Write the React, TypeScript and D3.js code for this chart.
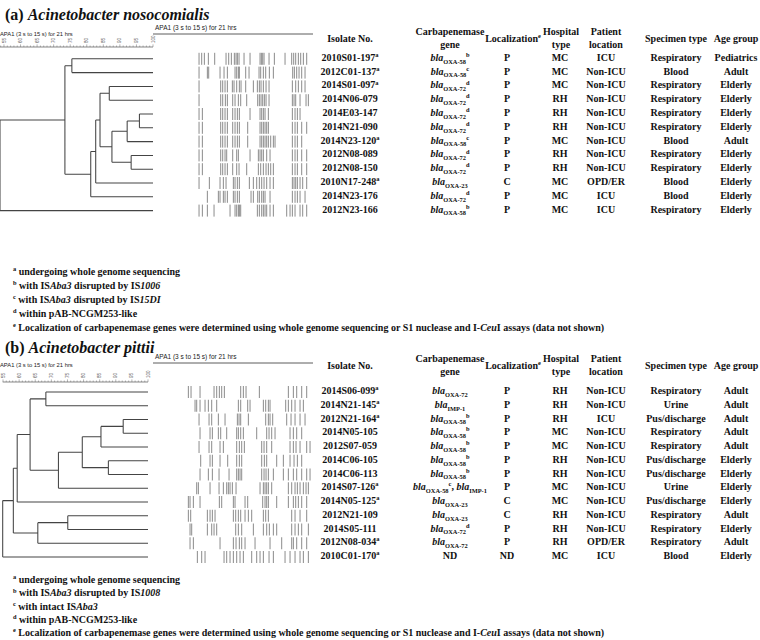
import React from 'react';
import * as d3 from 'd3';

// ---------- panel (a) A. nosocomialis ----------
const isolatesA = ['2010S01-197', '2012C01-137', '2014S01-097', '2014N06-079', '2014E03-147', '2014N21-090',
  '2014N23-120', '2012N08-089', '2012N08-150', '2010N17-248', '2014N23-176', '2012N23-166'];
const wgsA = [true, true, true, false, false, false, true, false, false, true, false, false];
const genesA = ['OXA-58^b', 'OXA-58^c', 'OXA-72^d', 'OXA-72^d', 'OXA-72^d', 'OXA-72^d',
  'OXA-58^c', 'OXA-72^d', 'OXA-72^d', 'OXA-23', 'OXA-72^d', 'OXA-58^b'];
const locA = ['P', 'P', 'P', 'P', 'P', 'P', 'P', 'P', 'P', 'C', 'P', 'P'];
const hospA = ['MC', 'MC', 'MC', 'RH', 'RH', 'RH', 'MC', 'RH', 'RH', 'MC', 'MC', 'MC'];
const patientA = ['ICU', 'Non-ICU', 'Non-ICU', 'Non-ICU', 'Non-ICU', 'Non-ICU', 'Non-ICU', 'Non-ICU', 'Non-ICU', 'OPD/ER', 'ICU', 'ICU'];
const specimenA = ['Respiratory', 'Blood', 'Respiratory', 'Respiratory', 'Respiratory', 'Respiratory',
  'Blood', 'Respiratory', 'Respiratory', 'Blood', 'Blood', 'Respiratory'];
const ageA = ['Pediatrics', 'Adult', 'Elderly', 'Elderly', 'Elderly', 'Elderly', 'Adult', 'Elderly', 'Elderly', 'Elderly', 'Elderly', 'Elderly'];

// PFGE band positions (lane units, low = top of gel)
const bandsA = [
  [237, 245, 253, 265, 284, 318, 326, 334, 343, 348, 352, 357, 372, 390, 420, 424, 428, 432, 447, 463, 495, 515, 521, 527, 535, 542, 550, 560],
  [237, 262, 266, 300, 312, 322, 345, 350, 355, 358, 377, 387, 417, 422, 430, 437, 448, 460, 518, 523, 530, 537, 545, 555],
  [237, 302, 308, 315, 322, 337, 342, 350, 358, 363, 377, 400, 412, 418, 423, 430, 438, 447, 517, 527, 535, 545, 555],
  [237, 302, 308, 316, 322, 338, 345, 355, 362, 380, 413, 418, 423, 428, 433, 438, 447, 517, 522, 527, 540, 558, 565],
  [237, 247, 302, 308, 315, 322, 338, 345, 352, 358, 390, 420, 425, 430, 435, 445, 517, 525, 532, 540],
  [237, 247, 302, 308, 315, 322, 338, 345, 352, 358, 383, 420, 425, 430, 435, 440, 445, 517, 525, 532, 545, 560],
  [237, 247, 302, 308, 315, 322, 338, 345, 352, 358, 383, 420, 425, 430, 435, 440, 445, 452, 460, 465, 517, 525, 532, 545],
  [237, 247, 302, 308, 315, 320, 338, 350, 355, 390, 415, 420, 425, 430, 440, 450, 517, 525, 532, 545, 560],
  [237, 247, 302, 308, 315, 322, 338, 350, 357, 380, 415, 422, 430, 438, 445, 452, 460, 517, 525, 532, 545, 560],
  [237, 268, 300, 310, 318, 340, 345, 352, 358, 388, 400, 410, 418, 425, 432, 440, 450, 460, 517, 522, 527, 532, 540, 548, 560],
  [262, 295, 300, 310, 315, 322, 340, 345, 352, 358, 393, 400, 413, 418, 425, 430, 435, 450, 517, 525, 532, 540, 555],
  [237, 247, 262, 282, 330, 345, 350, 355, 358, 362, 412, 418, 425, 430, 435, 440, 450, 460, 500, 510, 517, 525, 540, 548, 560],
];

// ---------- panel (b) A. pittii ----------
const isolatesB = ['2014S06-099', '2014N21-145', '2012N21-164', '2014N05-105', '2012S07-059', '2014C06-105',
  '2014C06-113', '2014S07-126', '2014N05-125', '2012N21-109', '2014S05-111', '2012N08-034', '2010C01-170'];
const wgsB = [true, true, true, false, false, false, false, true, true, false, false, true, true];
const genesB = ['OXA-72', 'IMP-1', 'OXA-58^b', 'OXA-58^b', 'OXA-58^b', 'OXA-58^b', 'OXA-58^b',
  'OXA-58^c,IMP-1', 'OXA-23', 'OXA-23', 'OXA-72^d', 'OXA-72', 'ND'];
const locB = ['P', 'P', 'P', 'P', 'P', 'P', 'P', 'P', 'C', 'C', 'P', 'P', 'ND'];
const hospB = ['RH', 'RH', 'RH', 'MC', 'MC', 'RH', 'RH', 'MC', 'MC', 'RH', 'RH', 'RH', 'MC'];
const patientB = ['Non-ICU', 'Non-ICU', 'ICU', 'Non-ICU', 'Non-ICU', 'Non-ICU', 'Non-ICU', 'Non-ICU', 'Non-ICU', 'Non-ICU', 'Non-ICU', 'OPD/ER', 'ICU'];
const specimenB = ['Respiratory', 'Urine', 'Pus/discharge', 'Respiratory', 'Respiratory', 'Pus/discharge', 'Pus/discharge',
  'Urine', 'Pus/discharge', 'Respiratory', 'Respiratory', 'Respiratory', 'Blood'];
const ageB = ['Adult', 'Adult', 'Adult', 'Adult', 'Adult', 'Elderly', 'Elderly', 'Elderly', 'Elderly', 'Adult', 'Elderly', 'Adult', 'Elderly'];

const bandsB = [
  [205, 213, 240, 282, 290, 298, 305, 313, 362, 370, 378, 418, 505, 520, 530, 545, 560],
  [225, 230, 240, 255, 265, 275, 290, 355, 362, 383, 390, 430, 437, 445, 450, 497, 505, 515, 525, 540, 550],
  [237, 267, 275, 295, 315, 352, 357, 362, 385, 437, 445, 450, 458, 500, 513, 525, 540, 555],
  [240, 270, 277, 295, 302, 320, 350, 355, 362, 370, 410, 440, 447, 455, 465, 510, 520, 530, 545],
  [237, 267, 275, 300, 310, 350, 358, 365, 373, 425, 432, 440, 455, 510, 520, 528, 540, 560, 570],
  [242, 270, 277, 300, 323, 350, 358, 365, 425, 433, 440, 470, 490, 510, 522, 532, 545],
  [240, 265, 277, 297, 327, 350, 355, 360, 365, 425, 432, 438, 445, 460, 490, 505, 520, 530, 545, 560, 570],
  [230, 235, 270, 297, 310, 320, 325, 330, 337, 348, 420, 430, 435, 440, 445, 455, 505, 515, 525, 532, 540, 550, 558, 565],
  [205, 210, 220, 240, 298, 305, 340, 345, 375, 383, 428, 435, 440, 445, 470, 505, 520, 527, 535, 545, 560],
  [205, 212, 262, 270, 277, 285, 340, 347, 355, 362, 375, 385, 395, 430, 437, 445, 515, 525, 540, 560],
  [210, 215, 262, 275, 282, 290, 347, 355, 365, 400, 430, 440, 448, 460, 470, 515, 525, 535, 545, 565],
  [210, 220, 300, 340, 348, 358, 365, 375, 405, 450, 485, 515, 520, 530, 545, 560],
  [232, 245, 255, 312, 320, 330, 340, 350, 360, 370, 395, 410, 420, 430, 447, 460, 495, 510, 525, 540, 550, 565],
];

// UPGMA-style trees: [similarity %, left, right]; numbers are leaf (row) indices
type T = number | [number, T, T];
const treeA: T = [53.8, [73.4, [75.5, 0, 1], [81.2, [82.7, [84.0, [86.8, 2, 3],
  [87.6, [92.2, [95.9, 4, 5], 6], [93.4, 7, 8]]], 9], 10]], 11];
const treeB: T = [54.9, [58.2, [59.4, [63.4, [68.3, 0, 1], [72.2, [79.6, [85.4, [92.3, 2, 3], 4], [87.7, 5, 6]], 7]], 8],
  [65.8, [75.1, 9, 10], 11]], 12];

const rulerTicks = [55, 60, 65, 70, 75, 80, 85, 90, 95, 100];

const footA = ['undergoing whole genome sequencing', 'with IS*Aba3* disrupted by IS*1006*', 'with IS*Aba3* disrupted by IS*15DI*',
  'within pAB-NCGM253-like', 'Localization of carbapenemase genes were determined using whole genome sequencing or S1 nuclease and I-*Ceu*I assays (data not shown)'];
const footB = ['undergoing whole genome sequencing', 'with IS*Aba3* disrupted by IS*1008*', 'with intact IS*Aba3*',
  'within pAB-NCGM253-like', 'Localization of carbapenemase genes were determined using whole genome sequencing or S1 nuclease and I-*Ceu*I assays (data not shown)'];
const footKeys = ['a', 'b', 'c', 'd', 'e'];

const SERIF = "'Liberation Serif','Times New Roman',serif";
const SANS = "'Liberation Sans',Arial,sans-serif";
const COLS = [350, 450, 507, 560, 606, 676, 736];
const FS = 10;

type Part = { t: string; it?: boolean; sub?: boolean; sup?: boolean };

function Rich({ x, y, parts, size, anchor = 'middle' }: { x: number; y: number; parts: Part[]; size: number; anchor?: string }) {
  let cur = 0;
  return (
    <text x={x} y={y} textAnchor={anchor} fontFamily={SERIF} fontWeight="bold" fontSize={size} fill="#111">
      {parts.map((p, i) => {
        const target = p.sub ? size * 0.28 : p.sup ? -size * 0.38 : 0;
        const dy = target - cur;
        cur = target;
        return (
          <tspan key={i} dy={dy} fontStyle={p.it ? 'italic' : 'normal'} fontSize={p.sub || p.sup ? size * 0.64 : size}>{p.t}</tspan>
        );
      })}
    </text>
  );
}

const italics = (s: string): Part[] => s.split('*').map((t, i) => ({ t, it: i % 2 === 1 })).filter(p => p.t);

function geneParts(g: string): Part[] {
  if (g === 'ND') return [{ t: 'ND' }];
  const out: Part[] = [];
  g.split(',').forEach((item, i) => {
    const [name, note] = item.split('^');
    if (i > 0) out.push({ t: ', ' });
    out.push({ t: 'bla', it: true }, { t: name, sub: true });
    if (note) out.push({ t: note, sup: true });
  });
  return out;
}

function Dendrogram({ tree, x, leafY }: { tree: T; x: d3.ScaleLinear<number, number>; leafY: (i: number) => number }) {
  const root = d3.hierarchy<T>(tree, d => (Array.isArray(d) ? [d[1], d[2]] : null));
  const end = x.range()[1];
  const pos = new Map<any, [number, number]>();
  root.eachAfter(nd => {
    if (nd.children) {
      const ys = nd.children.map(c => pos.get(c)![1]);
      pos.set(nd, [x((nd.data as any)[0]), (ys[0] + ys[ys.length - 1]) / 2]);
    } else pos.set(nd, [end, leafY(nd.data as number)]);
  });
  const p = d3.path();
  root.each(nd => {
    if (!nd.children) return;
    const [nx] = pos.get(nd)!;
    const ys = nd.children.map(c => pos.get(c)![1]);
    p.moveTo(nx, ys[0]); p.lineTo(nx, ys[ys.length - 1]);
    nd.children.forEach(c => { const [cx, cy] = pos.get(c)!; p.moveTo(nx, cy); p.lineTo(cx, cy); });
  });
  return <path d={p.toString()} fill="none" stroke="#444" strokeWidth={1.05} />;
}

function Ruler({ x, y }: { x: d3.ScaleLinear<number, number>; y: number }) {
  const [d0, d1] = x.domain();
  const minor = d3.range(Math.ceil(d0), d1 + 0.01, 1);
  return (
    <g>
      <line x1={x.range()[0]} x2={x.range()[1]} y1={y} y2={y} stroke="#555" strokeWidth={0.7} />
      {minor.map(v => (
        <line key={v} x1={x(v)} x2={x(v)} y1={y} y2={y - (v % 5 === 0 ? 2.6 : 1.5)} stroke="#666" strokeWidth={0.5} />
      ))}
      {rulerTicks.map(v => (
        <text key={v} transform={`translate(${x(v) + 1.6},${y - 4}) rotate(-90)`} fontFamily={SANS} fontSize={4.6} fill="#555">{v}</text>
      ))}
    </g>
  );
}

interface PanelProps {
  label: string; species: string; titleY: number;
  isolates: string[]; wgs: boolean[]; genes: string[]; loc: string[]; hosp: string[]; patient: string[]; specimen: string[]; age: string[];
  bands: number[][]; tree: T; sim: [number, number]; simRange: [number, number]; lane: [number, number]; laneDomain: [number, number];
  rowStep: number; firstRow: number; hdrY: number; apaRight: number; apaLeft: number; rulerY: number;
  foot: string[]; footY: number; footStep: number;
}

function Panel(pp: PanelProps) {
  const leafY = (i: number) => pp.firstRow + i * pp.rowStep;
  const x = d3.scaleLinear().domain(pp.sim).range(pp.simRange);
  const bx = d3.scaleLinear().domain(pp.laneDomain).range(pp.lane);
  const cols = [
    pp.isolates.map((s, i) => [{ t: s }, ...(pp.wgs[i] ? [{ t: 'a', sup: true }] : [])] as Part[]),
    pp.genes.map(geneParts),
    pp.loc.map(s => [{ t: s }]),
    pp.hosp.map(s => [{ t: s }]),
    pp.patient.map(s => [{ t: s }]),
    pp.specimen.map(s => [{ t: s }]),
    pp.age.map(s => [{ t: s }]),
  ];
  const h = pp.hdrY;
  return (
    <g>
      <text x={5} y={pp.titleY} fontFamily={SERIF} fontWeight="bold" fontSize={16} fill="#111">
        <tspan>{pp.label} </tspan><tspan fontStyle="italic">{pp.species}</tspan>
      </text>
      <text x={0} y={pp.apaLeft} fontFamily={SANS} fontSize={5.8} fill="#222">APA1 (3 s to 15 s) for 21 hrs</text>
      <text x={155} y={pp.apaRight} fontFamily={SANS} fontSize={6.5} fill="#222">APA1 (3 s to 15 s) for 21 hrs</text>
      <line x1={153} x2={313} y1={pp.apaRight + 4} y2={pp.apaRight + 4} stroke="#333" strokeWidth={0.8} />
      <Ruler x={x} y={pp.rulerY} />
      <Dendrogram tree={pp.tree} x={x} leafY={leafY} />
      {pp.bands.map((lane, i) => lane.map((b, j) => (
        <line key={`${i}-${j}`} x1={bx(b)} x2={bx(b)} y1={leafY(i) - 6} y2={leafY(i) + 6} stroke="#858585" strokeWidth={0.95} />
      )))}
      <Rich x={COLS[0]} y={h + 4.5} size={FS} parts={[{ t: 'Isolate No.' }]} />
      <Rich x={COLS[1]} y={h - 2.5} size={FS} parts={[{ t: 'Carbapenemase' }]} />
      <Rich x={COLS[1]} y={h + 10.5} size={FS} parts={[{ t: 'gene' }]} />
      <Rich x={COLS[2] + 6} y={h + 4.5} size={FS} parts={[{ t: 'Localization' }, { t: 'e', sup: true }]} />
      <Rich x={COLS[3] + 1} y={h - 2.5} size={FS} parts={[{ t: 'Hospital' }]} />
      <Rich x={COLS[3] + 1} y={h + 10.5} size={FS} parts={[{ t: 'type' }]} />
      <Rich x={COLS[4]} y={h - 2.5} size={FS} parts={[{ t: 'Patient' }]} />
      <Rich x={COLS[4]} y={h + 10.5} size={FS} parts={[{ t: 'location' }]} />
      <Rich x={COLS[5]} y={h + 4.5} size={FS} parts={[{ t: 'Specimen type' }]} />
      <Rich x={COLS[6]} y={h + 4.5} size={FS} parts={[{ t: 'Age group' }]} />
      {cols.map((col, c) => col.map((parts, i) => (
        <Rich key={`${c}-${i}`} x={COLS[c]} y={leafY(i) + 2} size={FS} parts={parts} />
      )))}
      {pp.foot.map((f, i) => (
        <Rich key={i} x={13} y={pp.footY + i * pp.footStep} size={10} anchor="start"
          parts={[{ t: footKeys[i], sup: true }, { t: ' ' }, ...italics(f)]} />
      ))}
    </g>
  );
}

export default function App() {
  return (
    <div style={{ position: 'absolute', left: 0, top: 0, background: '#fff' }}>
      <svg width={760} height={640} style={{ display: 'block' }}>
        <rect width={760} height={640} fill="#fff" />
        <Panel label="(a)" species="Acinetobacter nosocomialis" titleY={20}
          isolates={isolatesA} wgs={wgsA} genes={genesA} loc={locA} hosp={hospA} patient={patientA} specimen={specimenA} age={ageA}
          bands={bandsA} tree={treeA} sim={[53.8, 100]} simRange={[0, 153]} lane={[196.7, 311.7]} laneDomain={[230, 575]}
          rowStep={13.8} firstRow={58.8} hdrY={37} apaRight={30} apaLeft={36} rulerY={47}
          foot={footA} footY={275} footStep={14} />
        <Panel label="(b)" species="Acinetobacter pittii" titleY={353}
          isolates={isolatesB} wgs={wgsB} genes={genesB} loc={locB} hosp={hospB} patient={patientB} specimen={specimenB} age={ageB}
          bands={bandsB} tree={treeB} sim={[54.9, 100]} simRange={[2.7, 148]} lane={[186.7, 311.7]} laneDomain={[200, 575]}
          rowStep={13.75} firstRow={392} hdrY={364} apaRight={359} apaLeft={367} rulerY={382}
          foot={footB} footY={583} footStep={13.3} />
      </svg>
    </div>
  );
}
